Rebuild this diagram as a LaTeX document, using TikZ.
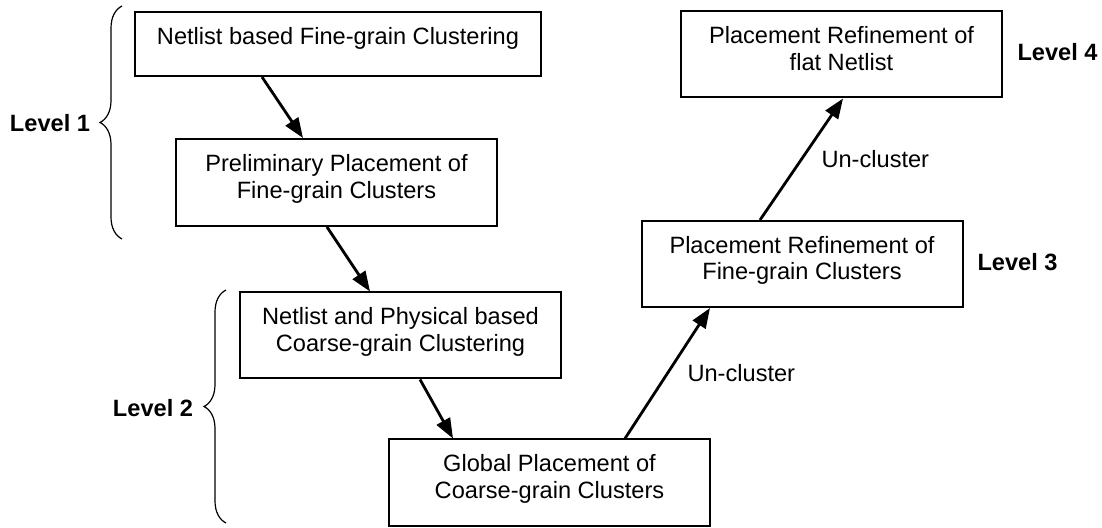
\documentclass[tikz,border=0pt]{standalone}
\usepackage{fontspec}
\setmainfont{Liberation Sans}
\usetikzlibrary{arrows.meta, decorations.pathreplacing}

\begin{document}
\begin{tikzpicture}[x=0.5pt, y=-0.5pt, >={Triangle[length=10pt,width=7.5pt]},
  font=\fontsize{11.8}{13.3}\selectfont,
  stage/.style={draw, line width=1pt, minimum width=160.5pt, minimum height=43pt,
    inner sep=0pt, align=center, text depth=6pt},
  tier/.style={font=\fontsize{11.8}{13.3}\selectfont\bfseries},
  flowarrow/.style={->, line width=1.4pt},
  bracket/.style={decorate, decoration={brace, amplitude=11pt}, line width=0.6pt}]
  \useasboundingbox (0,0) rectangle (1102,528);

  \node[stage, minimum width=203pt, minimum height=32pt, text depth=8.5pt] (fine) at (338,44) {Netlist based Fine-grain Clustering};
  \node[stage, minimum height=43.5pt] (prelim) at (336.5,182.5) {Preliminary Placement of\\Fine-grain Clusters};
  \node[stage] (coarse) at (400.5,335.5) {Netlist and Physical based\\Coarse-grain Clustering};
  \node[stage] (global) at (549.5,482.5) {Global Placement of\\Coarse-grain Clusters};
  \node[stage] (refine) at (802,264) {Placement Refinement of\\Fine-grain Clusters};
  \node[stage] (flat) at (841.5,54.5) {Placement Refinement of\\flat Netlist};

  \node[tier] (lvl1) at (50,123) {Level 1};
  \node[tier] (lvl2) at (153,408) {Level 2};
  \node[tier] (lvl3) at (1017.5,262) {Level 3};
  \node[tier] (lvl4) at (1057.5,52) {Level 4};

  \draw[bracket] (122,239) -- (122,6);
  \draw[bracket] (226,523) -- (226,290);

  \path[flowarrow]
    ([xshift=-38pt]fine.south) edge ([xshift=-16.75pt]prelim.north)
    ([xshift=-4.75pt]prelim.south) edge ([xshift=-15.25pt]coarse.north)
    ([xshift=9.75pt]coarse.south) edge ([xshift=-48.25pt]global.north)
    ([xshift=37.75pt]global.north) edge node[right=6pt] {Un-cluster} ([xshift=-46pt]refine.south)
    ([xshift=-21pt]refine.north) edge node[right=6pt] {Un-cluster} ([xshift=0.75pt]flat.south);
\end{tikzpicture}
\end{document}
